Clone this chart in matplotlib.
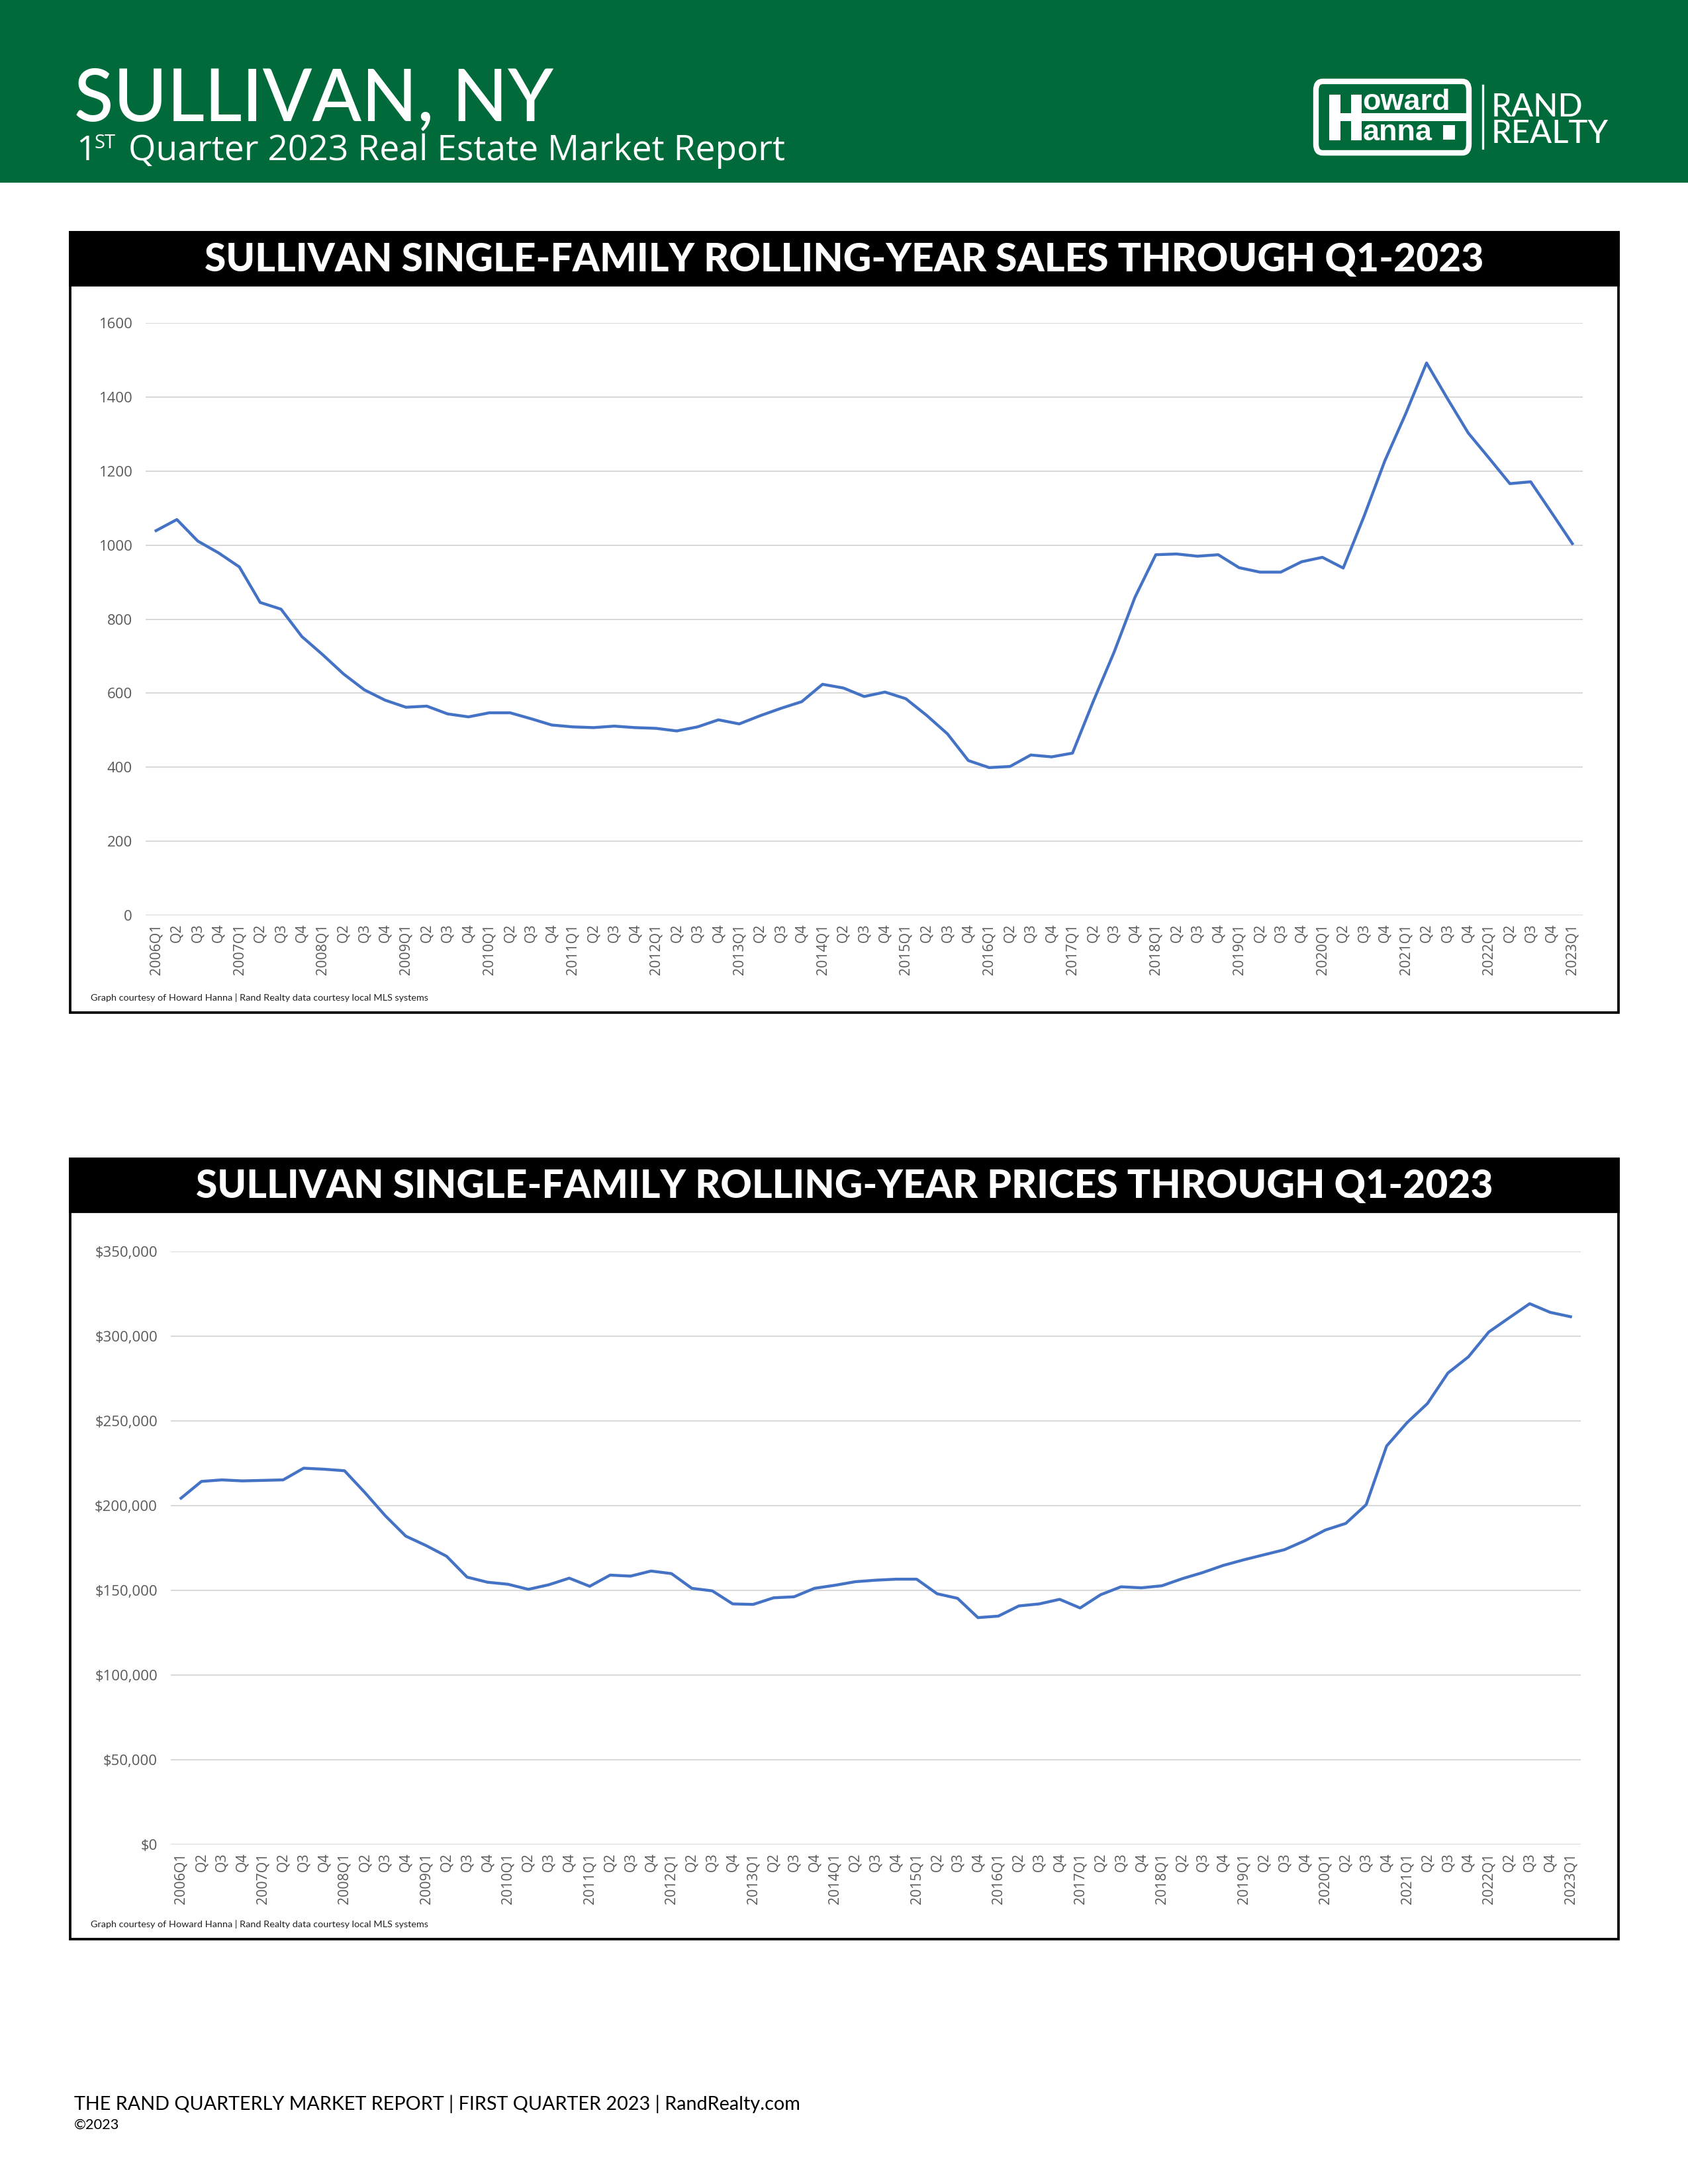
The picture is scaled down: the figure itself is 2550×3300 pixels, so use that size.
#!/usr/bin/env python

"""Sullivan NY Q1-2023 market report page: rolling-year sales and prices.
"""

import matplotlib
matplotlib.use('Agg')
import matplotlib.pyplot as plt
import matplotlib.patches as mpatches
import matplotlib.ticker as mticker

W, H = 2550, 3300
GREEN = '#006a3a'
BLUE = '#4472c4'
GRID = '#d9d9d9'
TICK = '#595959'

years = list(range(2006, 2024))
quarters = []
for yr in years:
    for q in range(1, 5):
        if yr == 2023 and q > 1:
            break
        quarters.append('{}Q{}'.format(yr, q) if q == 1 else 'Q{}'.format(q))

sales = [1039, 1069, 1011, 979, 941, 845, 827, 753, 704, 652, 609, 581,
         562, 565, 544, 536, 547, 547, 531, 514, 509, 507, 511, 507,
         505, 498, 509, 528, 517, 539, 559, 577, 624, 614, 591, 603,
         585, 540, 490, 418, 399, 402, 433, 428, 438, 578, 711, 859,
         974, 976, 970, 974, 939, 927, 927, 955, 967, 938, 1078, 1228,
         1355, 1492, 1396, 1303, 1235, 1166, 1171, 1088, 1004]

prices = [204400, 214300, 215200, 214600, 214900, 215200, 222100, 221500,
          220600, 207700, 194000, 182000, 176400, 170100, 157800, 154800,
          153600, 150600, 153300, 157200, 152400, 159000, 158400, 161400,
          159900, 151200, 149700, 142000, 141700, 145600, 146200, 151200,
          153000, 155100, 156000, 156600, 156600, 148000, 145300, 133900,
          134800, 140800, 142000, 144700, 139600, 147400, 152100, 151500,
          152700, 156900, 160500, 164700, 168000, 171000, 174000, 179300,
          185600, 189500, 200600, 235200, 249000, 260300, 278300, 287800,
          302500, 310900, 319200, 314100, 311500]

sales_title = 'SULLIVAN SINGLE-FAMILY ROLLING-YEAR SALES THROUGH Q1-2023'
prices_title = 'SULLIVAN SINGLE-FAMILY ROLLING-YEAR PRICES THROUGH Q1-2023'
credit = 'Graph courtesy of Howard Hanna | Rand Realty data courtesy local MLS systems'


def fx(x):
    return x / W


def fy(y):
    return 1 - y / H


def prect(x0, y0, x1, y1):
    """Pixel box (top-left origin) to figure fraction rect."""
    return [fx(x0), fy(y1), (x1 - x0) / W, (y1 - y0) / H]


def panel(fig, box, band_bottom, title, plot_box, values, ylim, ystep, fmt):
    x0, y0, x1, y1 = box
    fig.patches.append(mpatches.Rectangle(
        (fx(x0), fy(y1)), (x1 - x0) / W, (y1 - y0) / H,
        transform=fig.transFigure, facecolor='white', edgecolor='black',
        linewidth=0.9, zorder=-2))
    fig.patches.append(mpatches.Rectangle(
        (fx(x0), fy(band_bottom)), (x1 - x0) / W, (band_bottom - y0) / H,
        transform=fig.transFigure, facecolor='black', edgecolor='black',
        linewidth=0.9, zorder=-1))
    fig.text(fx((x0 + x1) / 2), fy((y0 + band_bottom) / 2 + 2), title,
             color='white', fontsize=14.1, fontweight='black',
             family='Lato', ha='center', va='center')

    ax = fig.add_axes(prect(*plot_box))
    ax.set_zorder(2)
    ax.patch.set_alpha(0)
    ax.plot(range(len(values)), values, color=BLUE, linewidth=1.05,
            solid_joinstyle='round')
    ax.set_xlim(-0.5, len(values) - 0.5)
    ax.set_ylim(*ylim)
    ax.set_yticks(range(ylim[0], ylim[1] + 1, ystep))
    ax.yaxis.set_major_formatter(mticker.FuncFormatter(fmt))
    ax.set_xticks(range(len(quarters)))
    ax.set_xticklabels(quarters, rotation=90, va='top', ha='center')
    ax.grid(axis='y', color=GRID, linewidth=0.5)
    ax.set_axisbelow(True)
    for side in ax.spines:
        ax.spines[side].set_visible(False)
    ax.tick_params(axis='both', length=0, colors=TICK)
    ax.tick_params(axis='y', pad=4.8, labelsize=5.3)
    ax.tick_params(axis='x', pad=3, labelsize=5.1)
    for lab in ax.get_xticklabels() + ax.get_yticklabels():
        lab.set_family('Open Sans')
    fig.text(fx(x0 + 31), fy(y1 - 23), credit, fontsize=3.45,
             family='Lato', color='#222222', va='center', ha='left')
    return ax


def main():
    fig = plt.figure(figsize=(W / 300, H / 300), dpi=300)

    # header band
    fig.patches.append(mpatches.Rectangle(
        (0, fy(276)), 1, 276 / H, transform=fig.transFigure,
        facecolor=GREEN, edgecolor='none', zorder=-3))
    fig.text(fx(112), fy(183), 'SULLIVAN, NY', color='white',
             fontsize=26.3, family='Lato', fontweight='medium',
             va='baseline', ha='left')
    fig.text(fx(115), fy(242), '1', color='white', fontsize=12.6,
             family='Open Sans', va='baseline', ha='left')
    fig.text(fx(143), fy(224), 'ST', color='white', fontsize=7,
             family='Open Sans', va='baseline', ha='left')
    fig.text(fx(194), fy(242), 'Quarter 2023 Real Estate Market Report',
             color='white', fontsize=12.8, family='Open Sans',
             va='baseline', ha='left')

    # logo
    fig.patches.append(mpatches.FancyBboxPatch(
        (fx(1988), fy(231)), (2219 - 1988) / W, (231 - 123) / H,
        boxstyle='round,pad=0,rounding_size=0.004',
        transform=fig.transFigure, facecolor='none', edgecolor='white',
        linewidth=2.0))
    for bx in [(2008, 143, 2025, 212), (2041, 143, 2057, 212),
               (2008, 171, 2215, 183), (2180, 189, 2198, 211)]:
        fig.patches.append(mpatches.Rectangle(
            (fx(bx[0]), fy(bx[3])), (bx[2] - bx[0]) / W, (bx[3] - bx[1]) / H,
            transform=fig.transFigure, facecolor='white', edgecolor='none'))
    fig.text(fx(2058), fy(166), 'oward', color='white', fontsize=10.8,
             family='Liberation Sans', fontweight='bold', va='baseline')
    fig.text(fx(2059), fy(212), 'anna', color='white', fontsize=10.8,
             family='Liberation Sans', fontweight='bold', va='baseline')
    fig.add_artist(plt.Line2D([fx(2240), fx(2240)], [fy(129), fy(224)],
                              color='white', linewidth=0.8))
    fig.text(fx(2253), fy(176), 'RAND', color='white', fontsize=11.7,
             family='Lato', fontweight='medium', va='baseline')
    fig.text(fx(2253), fy(216), 'REALTY', color='white', fontsize=11.7,
             family='Lato', fontweight='medium', va='baseline')

    panel(fig, (106, 351, 2445, 1530), 431, sales_title,
          (220, 488, 2391, 1383), sales, (0, 1600), 200,
          lambda v, p: '{:.0f}'.format(v))
    panel(fig, (106, 1751, 2445, 2930), 1831, prices_title,
          (258, 1891, 2388, 2787), prices, (0, 350000), 50000,
          lambda v, p: '${:,.0f}'.format(v))

    fig.text(fx(112), fy(3188), 'THE RAND QUARTERLY MARKET REPORT | '
             'FIRST QUARTER 2023 | RandRealty.com', fontsize=6.9,
             family='Lato', color='black', va='baseline')
    fig.text(fx(112), fy(3217), '\u00a92023', fontsize=5.2,
             family='Lato', color='black', va='baseline')

    fig.savefig('out.png', dpi=300)


if __name__ == '__main__':
    main()
